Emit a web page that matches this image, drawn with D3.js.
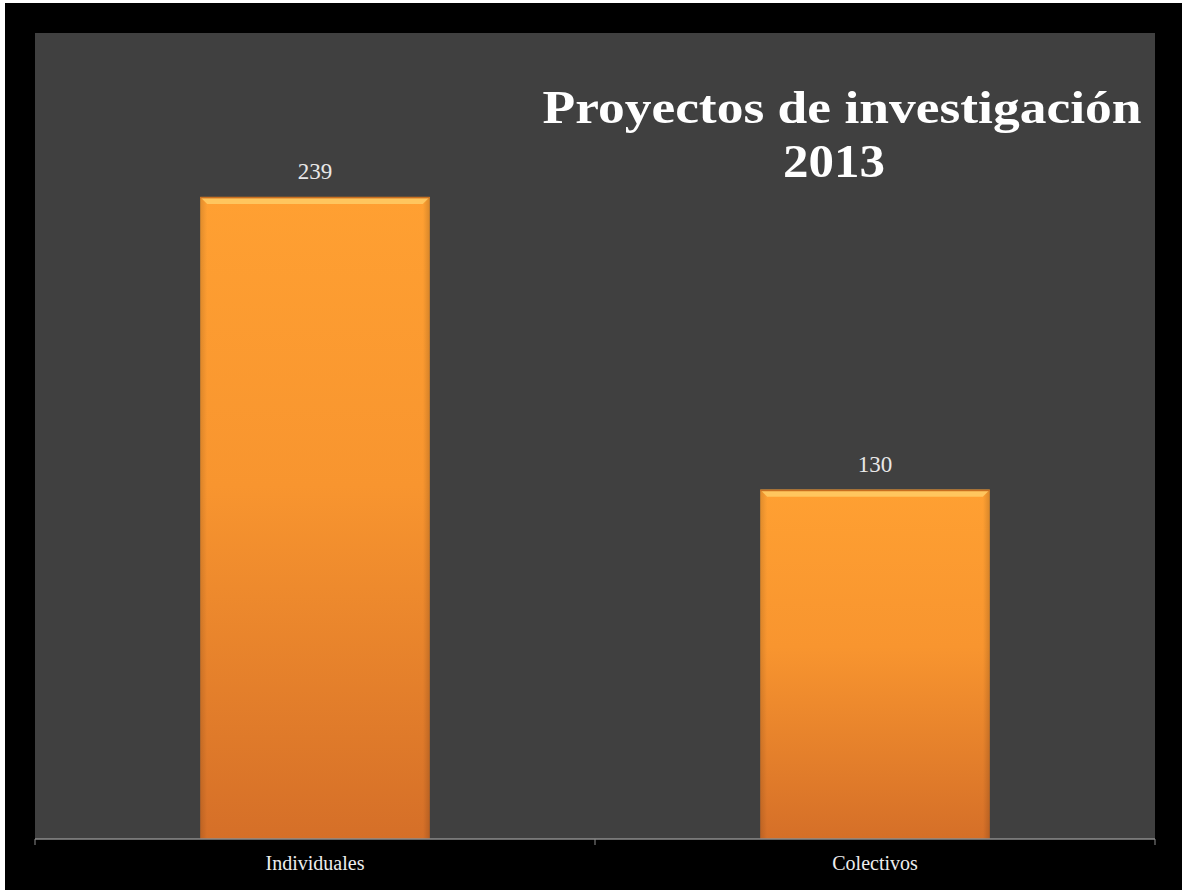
<!DOCTYPE html>
<html><head><meta charset="utf-8">
<script src="https://cdn.jsdelivr.net/npm/d3@7"></script>
<style>html,body{margin:0;padding:0;background:#fff;}svg{display:block;}</style>
</head><body>
<script>
const categories = ["Individuales", "Colectivos"];
const values = [239, 130];
const titleLines = ["Proyectos de investigación", "2013"];
const yDomain = [0, 300];

const W = 1182, H = 890;
const svg = d3.select("body").append("svg").attr("width", W).attr("height", H);
svg.append("rect").attr("x", 5).attr("y", 3).attr("width", W - 5).attr("height", H - 3).attr("fill", "#000");

const plot = {left: 35, top: 33, right: 1155, bottom: 839};
svg.append("rect").attr("x", plot.left).attr("y", plot.top)
  .attr("width", plot.right - plot.left).attr("height", plot.bottom - plot.top).attr("fill", "#404040");

const x = d3.scaleBand().domain(categories).range([plot.left, plot.right]).paddingInner(0.59).paddingOuter(0.295);
const y = d3.scaleLinear().domain(yDomain).range([plot.bottom, plot.top]);

const defs = svg.append("defs");
const g1 = defs.append("linearGradient").attr("id", "barGrad").attr("x1", 0).attr("y1", 0).attr("x2", 0).attr("y2", 1);
g1.append("stop").attr("offset", "0%").attr("stop-color", "#FFA032");
g1.append("stop").attr("offset", "45%").attr("stop-color", "#F8952F");
g1.append("stop").attr("offset", "100%").attr("stop-color", "#D56F28");
const g2 = defs.append("linearGradient").attr("id", "sideGrad").attr("x1", 0).attr("y1", 0).attr("x2", 1).attr("y2", 0);
g2.append("stop").attr("offset", "0%").attr("stop-color", "#000").attr("stop-opacity", 0.12);
g2.append("stop").attr("offset", "3%").attr("stop-color", "#000").attr("stop-opacity", 0);
g2.append("stop").attr("offset", "97%").attr("stop-color", "#000").attr("stop-opacity", 0);
g2.append("stop").attr("offset", "100%").attr("stop-color", "#000").attr("stop-opacity", 0.15);

const bars = svg.append("g").selectAll("g").data(categories).join("g");
bars.append("rect")
  .attr("x", d => x(d)).attr("y", (d, i) => y(values[i]))
  .attr("width", x.bandwidth()).attr("height", (d, i) => y(0) - y(values[i]))
  .attr("fill", "url(#barGrad)");
bars.append("rect")
  .attr("x", d => x(d)).attr("y", (d, i) => y(values[i]))
  .attr("width", x.bandwidth()).attr("height", (d, i) => y(0) - y(values[i]))
  .attr("fill", "url(#sideGrad)");
bars.append("path")
  .attr("d", (d, i) => {
    const x0 = x(d), x1 = x(d) + x.bandwidth(), yt = y(values[i]);
    return `M${x0},${yt}L${x1},${yt}L${x1 - 7},${yt + 7}L${x0 + 7},${yt + 7}Z`;
  })
  .attr("fill", "#FFC65E");
bars.append("rect")
  .attr("x", d => x(d)).attr("y", (d, i) => y(values[i]))
  .attr("width", x.bandwidth()).attr("height", 1.5).attr("fill", "#C96F20");

svg.append("g").selectAll("text").data(categories).join("text")
  .attr("x", d => x(d) + x.bandwidth() / 2)
  .attr("y", (d, i) => y(values[i]) - 18)
  .attr("text-anchor", "middle")
  .attr("font-family", "Liberation Serif, serif").attr("font-size", 23)
  .attr("fill", "#E8E8E8")
  .text((d, i) => values[i]);

const xAxisBand = d3.scaleBand().domain(categories).range([plot.left, plot.right]);
const axis = svg.append("g").attr("transform", `translate(0,${plot.bottom})`)
  .call(d3.axisBottom(xAxisBand).tickSize(0).tickPadding(17));
axis.select(".domain").remove();
axis.selectAll("text").attr("font-family", "Liberation Serif, serif").attr("font-size", 20).attr("fill", "#EDEDED");
svg.append("line").attr("x1", plot.left).attr("x2", plot.right).attr("y1", plot.bottom).attr("y2", plot.bottom)
  .attr("stroke", "#8C8C8C").attr("stroke-width", 1.5);
const tickXs = [plot.left, (plot.left + plot.right) / 2, plot.right];
svg.append("g").selectAll("line").data(tickXs).join("line")
  .attr("x1", d => d).attr("x2", d => d).attr("y1", plot.bottom).attr("y2", plot.bottom + 6)
  .attr("stroke", "#8C8C8C").attr("stroke-width", 1);

svg.append("g").selectAll("text").data(titleLines).join("text")
  .attr("x", (d, i) => i === 0 ? 842 : 834).attr("y", (d, i) => 123 + i * 54)
  .attr("text-anchor", "middle")
  .attr("font-family", "Liberation Serif, serif").attr("font-weight", "bold").attr("font-size", 47)
  .attr("textLength", (d, i) => i === 0 ? 599 : 102).attr("lengthAdjust", "spacingAndGlyphs")
  .attr("fill", "#FFFFFF")
  .text(d => d);
</script>
</body></html>
